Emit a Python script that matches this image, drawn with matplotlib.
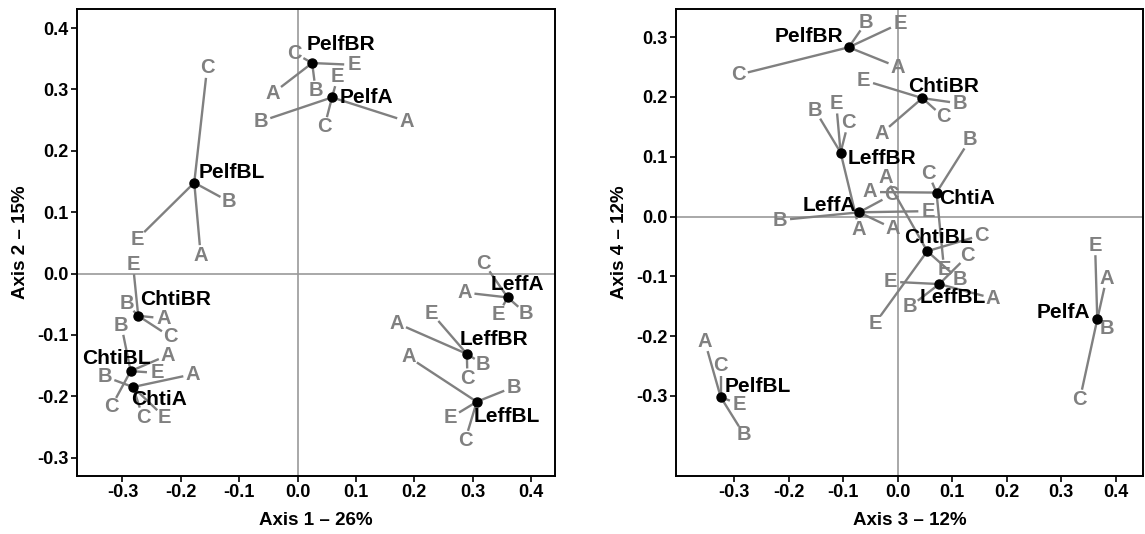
import numpy as np
import matplotlib
matplotlib.use("Agg")
import matplotlib.pyplot as plt

plt.rcParams['font.family'] = ['Liberation Sans', 'DejaVu Sans']
plt.rcParams['font.weight'] = 'bold'
plt.rcParams['axes.unicode_minus'] = False

# group centroids and sample letters (A, B, C, E) for both ordinations
names = ['PelfBR', 'PelfA', 'PelfBL', 'ChtiBR', 'ChtiBL', 'ChtiA', 'LeffA', 'LeffBR', 'LeffBL']
letters = ['A', 'B', 'C', 'E']

# axis 1 vs axis 2
ax1_cx = [0.025, 0.059, -0.177, -0.273, -0.286, -0.282, 0.360, 0.290, 0.307]
ax1_cy = [0.343, 0.287, 0.148, -0.069, -0.159, -0.185, -0.039, -0.131, -0.209]
ax1_lx = [[-0.042, 0.031, -0.005, 0.097],
          [0.187, -0.063, 0.046, 0.069],
          [-0.166, -0.117, -0.155, -0.275],
          [-0.230, -0.293, -0.218, -0.282],
          [-0.222, -0.302, -0.319, -0.241],
          [-0.179, -0.330, -0.265, -0.228],
          [0.286, 0.391, 0.319, 0.344],
          [0.170, 0.318, 0.291, 0.230],
          [0.190, 0.370, 0.287, 0.262]]
ax1_ly = [[0.294, 0.298, 0.359, 0.340],
          [0.248, 0.248, 0.239, 0.321],
          [0.030, 0.117, 0.335, 0.056],
          [-0.073, -0.049, -0.103, 0.015],
          [-0.133, -0.084, -0.217, -0.162],
          [-0.164, -0.168, -0.234, -0.234],
          [-0.031, -0.065, 0.017, -0.066],
          [-0.081, -0.148, -0.171, -0.065],
          [-0.136, -0.185, -0.272, -0.235]]

# axis 3 vs axis 4
ax3_cx = [-0.090, 0.366, -0.325, 0.045, 0.054, 0.071, -0.071, -0.105, 0.076]
ax3_cy = [0.283, -0.172, -0.302, 0.198, -0.058, 0.040, 0.007, 0.107, -0.113]
ax3_lx = [[0.000, -0.058, -0.293, 0.004],
          [0.383, 0.383, 0.334, 0.362],
          [-0.354, -0.282, -0.325, -0.291],
          [-0.030, 0.114, 0.083, -0.063],
          [-0.023, 0.113, 0.154, -0.042],
          [-0.051, 0.132, 0.056, 0.085],
          [-0.009, -0.216, -0.012, 0.056],
          [-0.071, -0.152, -0.091, -0.113],
          [0.175, 0.022, 0.128, -0.014]]
ax3_ly = [[0.250, 0.325, 0.237, 0.323],
          [-0.103, -0.187, -0.306, -0.048],
          [-0.209, -0.365, -0.250, -0.314],
          [0.139, 0.189, 0.167, 0.228],
          [0.066, -0.106, -0.031, -0.179],
          [0.041, 0.128, 0.072, -0.089],
          [-0.020, -0.006, 0.036, 0.009],
          [-0.021, 0.178, 0.157, 0.189],
          [-0.137, -0.151, -0.066, -0.109]]

ticks = [-0.3, -0.2, -0.1, 0.0, 0.1, 0.2, 0.3, 0.4]

# name label placement: (dx px, dy px down, ha)
name_pos1 = {'PelfBR': (-6, -19, 'left'), 'PelfA': (8, 0, 'left'), 'PelfBL': (4, -10, 'left'),
             'ChtiBR': (2, -16, 'left'), 'ChtiBL': (20, -13, 'right'), 'ChtiA': (-2, 12, 'left'),
             'LeffA': (10, -13, 'center'), 'LeffBR': (-7, -14, 'left'), 'LeffBL': (-3, 15, 'left')}
name_pos3 = {'PelfBR': (-6, -11, 'right'), 'PelfA': (-7, -7, 'right'), 'PelfBL': (4, -11, 'left'),
             'ChtiBR': (-14, -12, 'left'), 'ChtiBL': (11, -14, 'center'), 'ChtiA': (3, 6, 'left'),
             'LeffA': (-3, -7, 'right'), 'LeffBR': (7, 6, 'left'), 'LeffBL': (14, 13, 'center')}

grey = '#808080'

fig = plt.figure(figsize=(11.45, 5.34), dpi=100)
axL = fig.add_axes([0.0672, 0.1086, 0.4175, 0.8745])
axR = fig.add_axes([0.5904, 0.1086, 0.4079, 0.8745])


def panel(ax, cx, cy, lx, ly, xlim, ylim, yticks, xlabel, ylabel, npos):
    ax.set_xlim(xlim)
    ax.set_ylim(ylim)
    ax.axhline(0, color='#999999', lw=1.2, zorder=1)
    ax.axvline(0, color='#999999', lw=1.2, zorder=1)
    tr = ax.transData
    inv = tr.inverted()
    for i, name in enumerate(names):
        p0 = tr.transform((cx[i], cy[i]))
        for j, let in enumerate(letters):
            p1 = tr.transform((lx[i][j], ly[i][j]))
            d = p1 - p0
            L = np.hypot(*d)
            gap = 10.0
            end = p0 if L <= gap else p1 - d / L * gap
            e = inv.transform(end)
            ax.plot([cx[i], e[0]], [cy[i], e[1]], color=grey, lw=1.7,
                    solid_capstyle='butt', zorder=2)
            ax.text(lx[i][j], ly[i][j], let, color=grey, fontsize=14.5,
                    fontweight='bold', ha='center', va='center', zorder=3)
    ax.plot(cx, cy, 'o', color='black', ms=6.5, zorder=4)
    for i, name in enumerate(names):
        dx, dy, ha = npos[name]
        ax.annotate(name, (cx[i], cy[i]), xytext=(dx * 0.72, -dy * 0.72),
                    textcoords='offset points', ha=ha, va='center',
                    fontsize=15, fontweight='bold', color='black', zorder=5)
    ax.set_xticks(ticks)
    ax.set_xticklabels(['%.1f' % t for t in ticks])
    ax.set_yticks(yticks)
    ax.set_yticklabels(['%.1f' % t for t in yticks])
    ax.tick_params(labelsize=13, length=4, width=1.2, pad=2)
    for s in ax.spines.values():
        s.set_linewidth(1.4)
    ax.set_xlabel(xlabel, fontsize=13.5, fontweight='bold', labelpad=8)
    ax.set_ylabel(ylabel, fontsize=13.5, fontweight='bold', labelpad=6)


panel(axL, ax1_cx, ax1_cy, ax1_lx, ax1_ly, (-0.378, 0.441), (-0.330, 0.431),
      ticks, 'Axis 1 – 26%', 'Axis 2 – 15%', name_pos1)
panel(axR, ax3_cx, ax3_cy, ax3_lx, ax3_ly, (-0.407, 0.450), (-0.434, 0.347),
      ticks[:-1], 'Axis 3 – 12%', 'Axis 4 – 12%', name_pos3)

plt.savefig('out.png', dpi=100)
